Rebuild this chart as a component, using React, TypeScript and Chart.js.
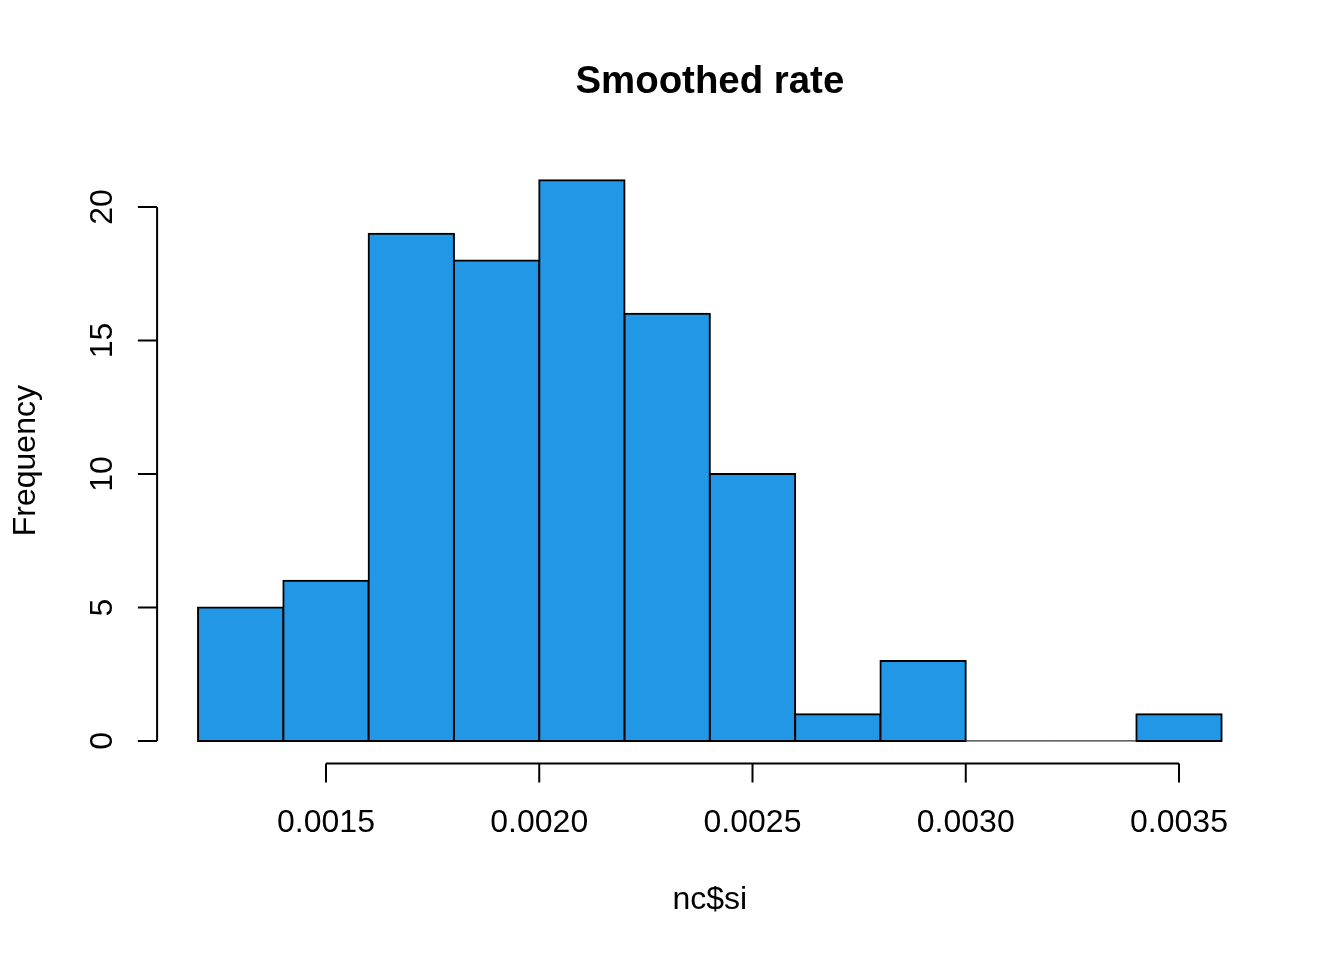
import React, { useEffect, useRef } from "react";
import { Chart, registerables } from "chart.js";

Chart.register(...registerables);

// Histogram data
const binEdges = [0.0012, 0.0014, 0.0016, 0.0018, 0.002, 0.0022, 0.0024, 0.0026, 0.0028, 0.003, 0.0032, 0.0034, 0.0036];
const counts = [5, 6, 19, 18, 21, 16, 10, 1, 3, 0, 0, 1];
const xTicks = [0.0015, 0.002, 0.0025, 0.003, 0.0035];
const xTickLabels = ["0.0015", "0.0020", "0.0025", "0.0030", "0.0035"];
const yTicks = [0, 5, 10, 15, 20];
const yTickLabels = ["0", "5", "10", "15", "20"];
const titleText = "Smoothed rate";
const xLabelText = "nc$si";
const yLabelText = "Frequency";

const FONT = '"Liberation Sans", Arial, Helvetica, sans-serif';

export default function App() {
  const ref = useRef<HTMLCanvasElement | null>(null);

  useEffect(() => {
    if (!ref.current) return;
    const centers = counts.map((_, i) => (binEdges[i] + binEdges[i + 1]) / 2);
    const xLo = binEdges[0];
    const xHi = binEdges[binEdges.length - 1];
    const xPad = (xHi - xLo) * 0.04;
    const yHi = Math.max(...counts);
    const yPad = yHi * 0.04;

    const rAxes = {
      id: "rAxes",
      afterDatasetsDraw(chart: any) {
        const ctx = chart.ctx as CanvasRenderingContext2D;
        const xs = chart.scales.x;
        const ys = chart.scales.y;
        const area = chart.chartArea;
        ctx.save();
        // zero-height bins drawn as flat lines
        ctx.strokeStyle = "#333";
        ctx.lineWidth = 1.3;
        counts.forEach((c, i) => {
          if (c === 0) {
            const y0 = ys.getPixelForValue(0);
            ctx.beginPath();
            ctx.moveTo(xs.getPixelForValue(binEdges[i]), y0);
            ctx.lineTo(xs.getPixelForValue(binEdges[i + 1]), y0);
            ctx.stroke();
          }
        });
        ctx.strokeStyle = "#000";
        ctx.lineWidth = 2;
        const tick = 19.2;
        // x axis
        const xb = area.bottom;
        ctx.beginPath();
        ctx.moveTo(xs.getPixelForValue(xTicks[0]), xb);
        ctx.lineTo(xs.getPixelForValue(xTicks[xTicks.length - 1]), xb);
        xTicks.forEach((t) => {
          const px = xs.getPixelForValue(t);
          ctx.moveTo(px, xb);
          ctx.lineTo(px, xb + tick);
        });
        ctx.stroke();
        // y axis
        const yl = area.left;
        ctx.beginPath();
        ctx.moveTo(yl, ys.getPixelForValue(yTicks[0]));
        ctx.lineTo(yl, ys.getPixelForValue(yTicks[yTicks.length - 1]));
        yTicks.forEach((t) => {
          const py = ys.getPixelForValue(t);
          ctx.moveTo(yl, py);
          ctx.lineTo(yl - tick, py);
        });
        ctx.stroke();

        // labels
        ctx.fillStyle = "#000";
        ctx.font = `32px ${FONT}`;
        ctx.textAlign = "center";
        ctx.textBaseline = "alphabetic";
        xTicks.forEach((t, i) => {
          ctx.fillText(xTickLabels[i], xs.getPixelForValue(t), xb + 69);
        });
        yTicks.forEach((t, i) => {
          const py = ys.getPixelForValue(t);
          ctx.save();
          ctx.translate(yl - 45, py);
          ctx.rotate(-Math.PI / 2);
          ctx.fillText(yTickLabels[i], 0, 0);
          ctx.restore();
        });
        // axis titles
        const cx = (area.left + area.right) / 2;
        const cy = (area.top + area.bottom) / 2;
        ctx.fillText(xLabelText, cx, xb + 146);
        ctx.save();
        ctx.translate(34.5, cy);
        ctx.rotate(-Math.PI / 2);
        ctx.fillText(yLabelText, 0, 0);
        ctx.restore();
        // main title
        ctx.font = `bold 38.4px ${FONT}`;
        ctx.fillText(titleText, cx, 92.5);
        ctx.restore();
      },
    };

    const chart = new Chart(ref.current, {
      type: "bar",
      data: {
        datasets: [
          {
            data: centers.map((c, i) => ({ x: c, y: counts[i] })),
            backgroundColor: "#2297E6",
            borderColor: "#000000",
            borderWidth: 2,
            borderSkipped: false,
            inflateAmount: 1,
            barPercentage: 1,
            categoryPercentage: 1,
          } as any,
        ],
      },
      options: {
        animation: false,
        responsive: false,
        devicePixelRatio: 1,
        layout: { padding: { left: 157.1, right: 81.4, top: 157.9, bottom: 196.6 } },
        plugins: { legend: { display: false }, tooltip: { enabled: false }, title: { display: false } },
        scales: {
          x: { type: "linear", display: false, offset: false, min: xLo - xPad, max: xHi + xPad },
          y: { type: "linear", display: false, min: -yPad, max: yHi + yPad },
        },
      },
      plugins: [rAxes],
    });
    return () => chart.destroy();
  }, []);

  return (
    <div style={{ position: "fixed", left: 0, top: 0, width: 1344, height: 960, background: "#fff" }}>
      <canvas ref={ref} width={1344} height={960} style={{ width: 1344, height: 960, display: "block" }} />
    </div>
  );
}
